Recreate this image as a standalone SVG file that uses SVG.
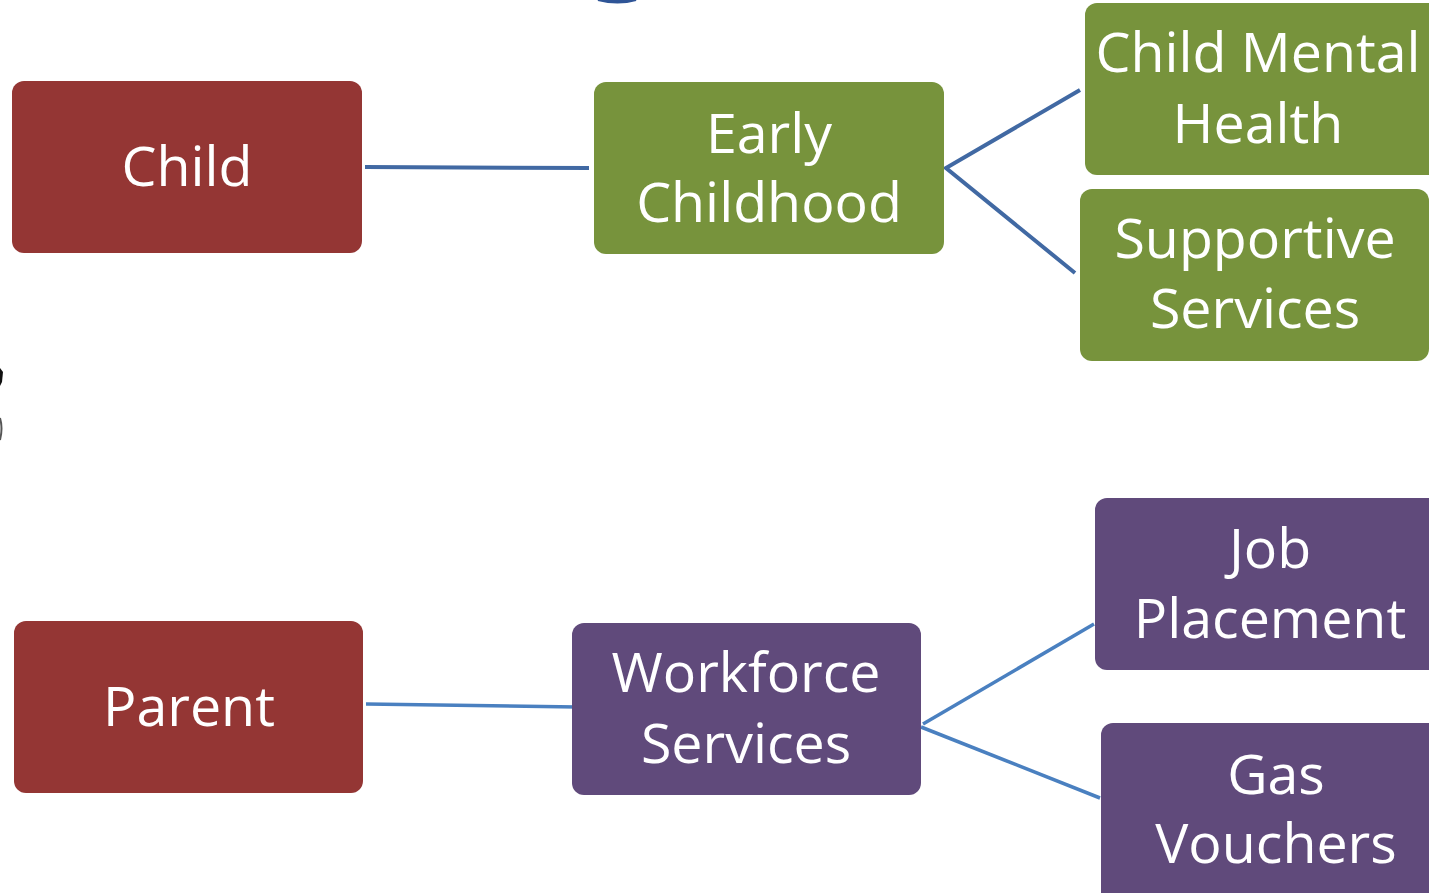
<svg xmlns="http://www.w3.org/2000/svg" width="1429" height="893" viewBox="0 0 1429 893">
<style>
.t{font-family:"Open Sans","Noto Sans","Liberation Sans",sans-serif;font-size:55.5px;fill:#ffffff;text-anchor:middle}
.red{fill:#943634}
.green{fill:#77933C}
.purple{fill:#604A7B}
.c1{stroke:#4169A3;stroke-width:4;fill:none}
.c2{stroke:#4A80C0;stroke-width:3.5;fill:none}
</style>
<rect width="1429" height="893" fill="#ffffff"/>
<path d="M598,0 Q618,5 636,0 Z" fill="#2F5597" stroke="#2F5597" stroke-width="2"/>
<path d="M0,368 L3,372 L2,382 L0,386 Z" fill="#111"/>
<path d="M0,418 Q3,428 0,440" fill="none" stroke="#555" stroke-width="2"/>
<g id="connectors">
<line class="c1" x1="365" y1="167" x2="589" y2="168"/>
<polyline class="c1" points="1080,90 946,168 1075,273"/>
<line class="c2" x1="366" y1="704" x2="577" y2="707"/>
<polyline class="c2" points="1094,624 923,724"/>
<polyline class="c2" points="921,727 1100,798"/>
</g>
<g id="child"><rect class="red" x="12" y="81" width="350" height="172" rx="12"/><text class="t" x="187" y="186">Child</text></g>
<g id="parent"><rect class="red" x="14" y="621" width="349" height="172" rx="12"/><text class="t" x="189" y="726">Parent</text></g>
<g id="early"><rect class="green" x="594" y="82" width="350" height="172" rx="12"/><text class="t" x="769" y="153">Early</text><text class="t" x="769" y="222">Childhood</text></g>
<g id="cmh"><rect class="green" x="1085" y="3" width="360" height="172" rx="12"/><text class="t" x="1258" y="72">Child Mental</text><text class="t" x="1258" y="143">Health</text></g>
<g id="supportive"><rect class="green" x="1080" y="189" width="349" height="172" rx="12"/><text class="t" x="1255" y="258">Supportive</text><text class="t" x="1255" y="328">Services</text></g>
<g id="workforce"><rect class="purple" x="572" y="623" width="349" height="172" rx="12"/><text class="t" x="746" y="692">Workforce</text><text class="t" x="746" y="763">Services</text></g>
<g id="job"><rect class="purple" x="1095" y="498" width="350" height="172" rx="12"/><text class="t" x="1270" y="568">Job</text><text class="t" x="1270" y="638">Placement</text></g>
<g id="gas"><rect class="purple" x="1101" y="723" width="350" height="185" rx="12"/><text class="t" x="1276" y="794">Gas</text><text class="t" x="1276" y="863">Vouchers</text></g>
</svg>
